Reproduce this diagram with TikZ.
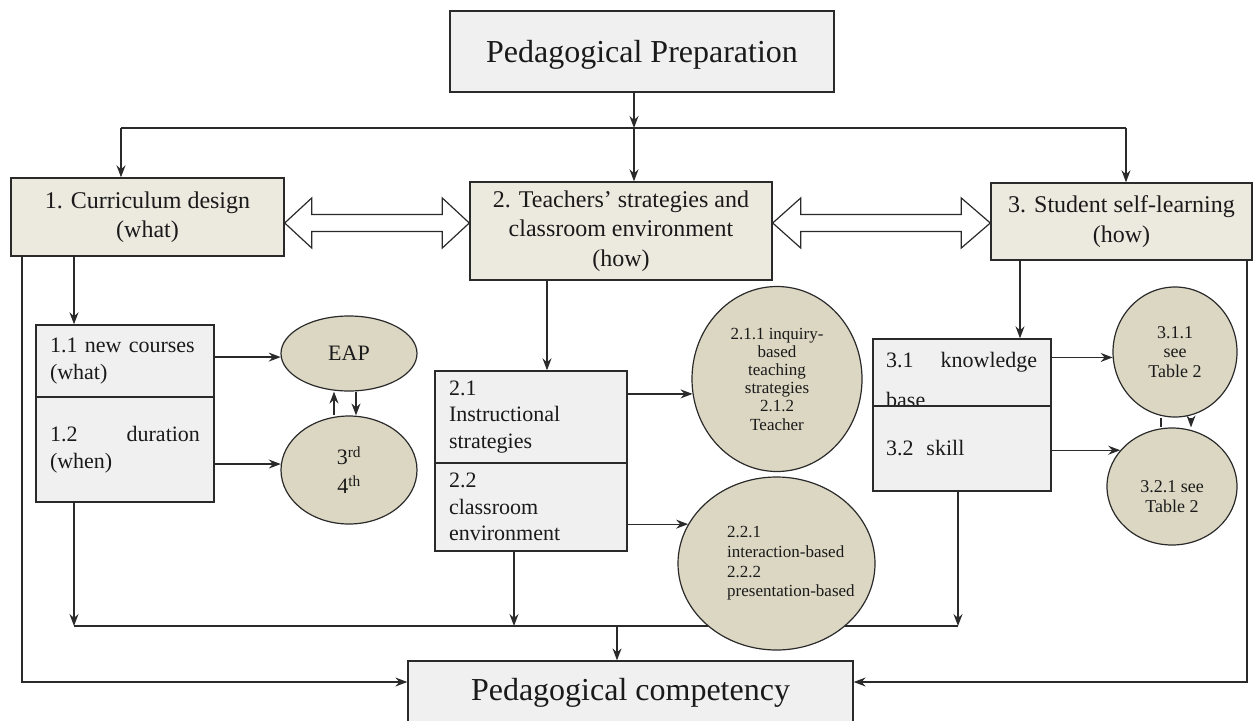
\documentclass[tikz,border=0pt]{standalone}
\usepackage{fontspec}
\setmainfont{Liberation Serif}
\usetikzlibrary{shapes.geometric,arrows.meta,calc,backgrounds}
\definecolor{beige}{HTML}{ECE9DF}
\definecolor{ovalfill}{HTML}{DCD7C3}
\definecolor{pale}{HTML}{F0F0F0}
\definecolor{edge}{HTML}{2A2A2A}
\definecolor{ink}{HTML}{1A1A1A}
\begin{document}
\begin{tikzpicture}[x=1pt,y=-1pt,
  titlebox/.style={draw=edge, line width=1.3pt, fill=pale, inner sep=0pt, text=ink, font=\fontsize{32}{38}\selectfont},
  mainbox/.style={draw=edge, line width=1.4pt, fill=beige, inner sep=0pt, align=center, text=ink, font=\fontsize{24}{29.5}\selectfont},
  subbox/.style={draw=edge, line width=1.4pt, fill=pale, inner xsep=14pt, inner ysep=0pt, align=left, text=ink, font=\fontsize{22}{26.5}\selectfont},
  ovalnode/.style={ellipse, draw=edge, line width=1.2pt, fill=ovalfill, inner sep=0pt, align=center, text=ink},
  plain/.style={inner sep=0pt, text=ink},
  conn/.style={draw=edge, line width=1.2pt},
  arr/.style={conn, -{Stealth[length=12pt,width=9pt,inset=4pt]}},
  blk/.style={draw=edge, line width=1.2pt, fill=white, line join=miter}]
\useasboundingbox (0,0) rectangle (1255,720);

% top and bottom boxes
\node[titlebox, minimum width=384pt, minimum height=81pt, text depth=0pt] (P) at (642,51.5) {Pedagogical Preparation};
\node[titlebox, minimum width=445pt, minimum height=63pt] (comp) at (630.5,692.5) {Pedagogical competency};

% main boxes
\node[mainbox, minimum width=273pt, minimum height=78pt] (b1) at (147.5,217) {1. Curriculum design\\(what)};
\node[mainbox, minimum width=302pt, minimum height=98pt] (b2) at (621,231) {2. Teachers' strategies and\\classroom environment\\(how)};
\node[mainbox, minimum width=261pt, minimum height=77pt] (b3) at (1121.5,221.5) {3. Student self-learning\\(how)};

% sub boxes
\node[subbox, text width=150pt, minimum height=72pt] (b11) at (125,361) {1.1 new courses\\(what)};
\node[subbox, text width=150pt, minimum height=105pt] (b12) at (125,449.5) {1.2\hfill duration\\(when)};
\node[subbox, text width=164pt, minimum height=92pt] (b21) at (531,417) {2.1\\Instructional\\strategies};
\node[subbox, text width=164pt, minimum height=88pt] (b22) at (531,507) {2.2\\classroom\\environment};
\node[subbox, text width=152pt, inner xsep=13pt, minimum height=67pt] (b31) at (962,372.5) {};
\node[plain, anchor=base west, font=\fontsize{22}{26.5}\selectfont] (t31a) at (886,367) {\makebox[151pt][s]{3.1\hfill knowledge}};
\node[plain, anchor=base west, font=\fontsize{22}{26.5}\selectfont] (t31b) at (886,407) {base};
\node[subbox, text width=152pt, inner xsep=13pt, minimum height=85pt] (b32) at (962,448.5) {3.2\hspace{13pt}skill};

% ovals
\node[ovalnode, minimum width=136pt, minimum height=75pt, font=\fontsize{22}{26}\selectfont] (eap) at (349,353.5) {EAP};
\node[ovalnode, minimum width=136pt, minimum height=108pt, font=\fontsize{22}{29}\selectfont] (rd) at (349,470) {3\textsuperscript{rd}\\4\textsuperscript{th}};
\node[ovalnode, minimum width=170pt, minimum height=185pt, font=\fontsize{17}{18.2}\selectfont] (c211) at (777,379) {2.1.1 inquiry-\\based\\teaching\\strategies\\2.1.2\\Teacher};
\node[ovalnode, minimum width=197pt, minimum height=173pt] (e22) at (776.5,563.5) {};
\node[plain, align=left, anchor=west, font=\fontsize{17}{19.7}\selectfont] (t22) at (727,563.6) {2.2.1\\interaction-based\\2.2.2\\presentation-based};
\node[ovalnode, minimum width=124pt, minimum height=130pt, font=\fontsize{18}{19.5}\selectfont] (c311) at (1175,352) {3.1.1\\see\\Table 2};
\node[ovalnode, minimum width=130pt, minimum height=117pt] (c321) at (1172,486.5) {};
\node[plain, align=center, font=\fontsize{18}{20}\selectfont] (t321) at (1172,497) {3.2.1 see\\Table 2};

% double block arrows
\coordinate (d1) at (b1.east |- 0,223);
\coordinate (d2) at (b2.west |- 0,223);
\draw[blk] (d1) -- ($(d1)+(27,-25)$) -- ($(d1)+(27,-8.5)$) -- ($(d2)+(-27,-8.5)$) -- ($(d2)+(-27,-25)$) -- (d2)
  -- ($(d2)+(-27,25)$) -- ($(d2)+(-27,8.5)$) -- ($(d1)+(27,8.5)$) -- ($(d1)+(27,25)$) -- cycle;
\coordinate (d3) at (b2.east |- 0,223);
\coordinate (d4) at (b3.west |- 0,223);
\draw[blk] (d3) -- ($(d3)+(28,-25)$) -- ($(d3)+(28,-8.5)$) -- ($(d4)+(-29,-8.5)$) -- ($(d4)+(-29,-25)$) -- (d4)
  -- ($(d4)+(-29,25)$) -- ($(d4)+(-29,8.5)$) -- ($(d3)+(28,8.5)$) -- ($(d3)+(28,25)$) -- cycle;

\begin{pgfonlayer}{background}
% top distribution
\coordinate (hub) at (634,128);
\coordinate (hl) at (121,128);
\coordinate (hr) at (1126,128);
\draw[arr] (P.south -| hub) -- (hub);
\draw[conn] (hl) -- (hr);
\draw[arr] (hub) -- (b2.north -| hub);
\draw[arr] (hl) -- (b1.north -| hl);
\draw[arr] (hr) -- (b3.north -| hr);

% down to sub boxes
\coordinate (bl) at (74,626);
\coordinate (bm) at (514,626);
\coordinate (bmid) at (617,626);
\coordinate (br) at (958,626);
\draw[arr] (b1.south -| bl) -- (b11.north -| bl);
\draw[arr] (b2.south -| 547,0) -- (b21.north -| 547,0);
\draw[arr] (b3.south -| 1020,0) -- (b31.north -| 1020,0);

% sub boxes to ovals
\draw[arr] (b11.east |- eap.183) -- (eap.183);
\draw[arr] (b12.east |- rd.175) -- (rd.175);
\draw[arr] (rd.north -| 334,0) -- (eap.south -| 334,0);
\draw[arr] (eap.south -| 356,0) -- (rd.north -| 356,0);
\draw[arr] (b21.east |- c211.190) -- (c211.190);
\draw[arr] (b22.east |- e22.156) -- (e22.156);
\draw[arr] (b31.east |- c311.185) -- (c311.185);
\draw[arr] (b32.east |- c321.145) -- (c321.145);
\draw[conn] (c311.south -| 1161,0) -- (c321.north -| 1161,0);
\draw[arr] (c311.south -| 1191,0) -- (c321.north -| 1191,0);

% collection line
\draw[conn] (bl) -- (br);
\draw[arr] (b12.south -| bl) -- (bl);
\draw[arr] (b22.south -| bm) -- (bm);
\draw[arr] (b32.south -| br) -- (br);
\draw[arr] (bmid) -- (comp.north -| bmid);

% outer side lines
\coordinate (ll) at (22,682);
\coordinate (rr) at (1247,682);
\draw[arr] (b1.south -| ll) -- (ll) -- (comp.west |- ll);
\draw[arr] (b3.south -| rr) -- (rr) -- (comp.east |- rr);
\end{pgfonlayer}
\end{tikzpicture}
\end{document}
